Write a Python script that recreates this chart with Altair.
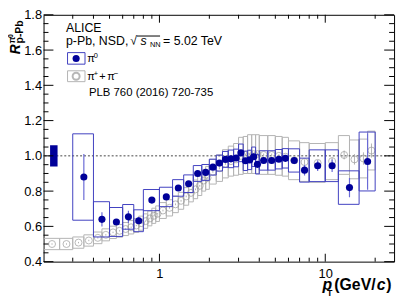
import altair as alt
import pandas as pd

# ---------------- data ----------------
# pi0 R_pPb
pi0_pt = [0.35, 0.45, 0.55, 0.65, 0.75, 0.9, 1.1, 1.3, 1.5, 1.7, 1.9, 2.1, 2.3, 2.5, 2.7, 2.9,
          3.1, 3.3, 3.5, 3.7, 3.9, 4.25, 4.75, 5.25, 5.75, 6.5, 7.5, 9.0, 11.0, 14.0, 18.0]
pi0_lo = [0.3, 0.4, 0.5, 0.6, 0.7, 0.8, 1.0, 1.2, 1.4, 1.6, 1.8, 2.0, 2.2, 2.4, 2.6, 2.8,
          3.0, 3.2, 3.4, 3.6, 3.8, 4.0, 4.5, 5.0, 5.5, 6.0, 7.0, 8.0, 10.0, 12.0, 16.0]
pi0_hi = [0.4, 0.5, 0.6, 0.7, 0.8, 1.0, 1.2, 1.4, 1.6, 1.8, 2.0, 2.2, 2.4, 2.6, 2.8, 3.0,
          3.2, 3.4, 3.6, 3.8, 4.0, 4.5, 5.0, 5.5, 6.0, 7.0, 8.0, 10.0, 12.0, 16.0, 20.0]
pi0_val = [0.88, 0.64, 0.625, 0.654, 0.632, 0.749, 0.767, 0.818, 0.842, 0.90, 0.906, 0.936, 0.959,
           0.98, 0.983, 0.988, 1.017, 0.972, 0.977, 0.995, 0.952, 0.974, 0.974, 0.981, 0.986,
           0.974, 0.919, 0.944, 0.944, 0.82, 0.968]
pi0_stat = [0.13, 0.04, 0.015, 0.035, 0.02, 0.012, 0.01, 0.01, 0.01, 0.01, 0.01, 0.01, 0.01,
            0.01, 0.01, 0.01, 0.01, 0.015, 0.015, 0.015, 0.015, 0.015, 0.015, 0.015, 0.015,
            0.02, 0.03, 0.03, 0.035, 0.055, 0.16]
pi0_sys = [0.245, 0.10, 0.082, 0.07, 0.062, 0.06, 0.055, 0.047, 0.05, 0.045, 0.045, 0.045, 0.045,
           0.045, 0.05, 0.05, 0.05, 0.055, 0.055, 0.055, 0.055, 0.055, 0.055, 0.055, 0.055,
           0.066, 0.068, 0.09, 0.09, 0.095, 0.167]

# pi+ + pi- R_pPb
ch_pt = [0.225, 0.275, 0.325, 0.375, 0.425, 0.475, 0.525, 0.575, 0.625, 0.675, 0.725, 0.775,
         0.825, 0.875, 0.925, 0.975, 1.05, 1.15, 1.25, 1.35, 1.45, 1.55, 1.65, 1.75, 1.85, 1.95,
         2.1, 2.3, 2.5, 2.7, 2.9, 3.1, 3.3, 3.5, 3.7, 3.9, 4.25, 4.75, 5.25, 5.75,
         6.5, 7.5, 9.0, 11.0, 13.0, 15.0, 17.0, 19.0]
ch_lo = [0.2, 0.25, 0.3, 0.35, 0.4, 0.45, 0.5, 0.55, 0.6, 0.65, 0.7, 0.75, 0.8, 0.85, 0.9, 0.95,
         1.0, 1.1, 1.2, 1.3, 1.4, 1.5, 1.6, 1.7, 1.8, 1.9, 2.0, 2.2, 2.4, 2.6, 2.8, 3.0, 3.2, 3.4,
         3.6, 3.8, 4.0, 4.5, 5.0, 5.5, 6.0, 7.0, 8.0, 10.0, 12.0, 14.0, 16.0, 18.0]
ch_hi = [0.25, 0.3, 0.35, 0.4, 0.45, 0.5, 0.55, 0.6, 0.65, 0.7, 0.75, 0.8, 0.85, 0.9, 0.95, 1.0,
         1.1, 1.2, 1.3, 1.4, 1.5, 1.6, 1.7, 1.8, 1.9, 2.0, 2.2, 2.4, 2.6, 2.8, 3.0, 3.2, 3.4, 3.6,
         3.8, 4.0, 4.5, 5.0, 5.5, 6.0, 7.0, 8.0, 10.0, 12.0, 14.0, 16.0, 18.0, 20.0]
ch_val = [0.50, 0.50, 0.508, 0.52, 0.535, 0.552, 0.566, 0.575, 0.585, 0.595, 0.605, 0.618,
          0.63, 0.645, 0.66, 0.672, 0.69, 0.705, 0.725, 0.745, 0.77, 0.79, 0.81, 0.83, 0.86,
          0.875, 0.91, 0.93, 0.955, 0.97, 0.98, 1.0, 1.005, 1.01, 1.01, 1.01, 1.005, 1.005,
          1.0, 0.995, 0.975, 0.965, 0.96, 0.97, 1.005, 0.98, 0.985, 1.03]
ch_stat = [0.004, 0.004, 0.004, 0.004, 0.004, 0.004, 0.004, 0.004, 0.004, 0.004, 0.004, 0.004,
           0.004, 0.004, 0.004, 0.004, 0.005, 0.005, 0.005, 0.005, 0.005, 0.005, 0.005, 0.005,
           0.005, 0.005, 0.006, 0.006, 0.006, 0.006, 0.006, 0.007, 0.007, 0.007, 0.007, 0.007,
           0.008, 0.008, 0.009, 0.01, 0.012, 0.015, 0.015, 0.02, 0.025, 0.03, 0.035, 0.04]
ch_sys = [0.032, 0.032, 0.032, 0.032, 0.033, 0.034, 0.035, 0.036, 0.037, 0.038, 0.039, 0.04,
          0.041, 0.042, 0.043, 0.044, 0.045, 0.046, 0.047, 0.048, 0.05, 0.051, 0.053, 0.055,
          0.06, 0.065, 0.07, 0.075, 0.08, 0.085, 0.09, 0.105, 0.105, 0.11, 0.11, 0.11, 0.11,
          0.11, 0.11, 0.11, 0.11, 0.11, 0.11, 0.105, 0.11, 0.11, 0.11, 0.11]

# normalisation uncertainty box
norm_x = [0.219, 0.243]
norm_y = [0.94, 1.06]

# axis ticks / labels
y_major = [0.4, 0.6, 0.8, 1.0, 1.2, 1.4, 1.6, 1.8]
y_minor = [0.45, 0.5, 0.55, 0.65, 0.7, 0.75, 0.85, 0.9, 0.95, 1.05, 1.1, 1.15, 1.25, 1.3, 1.35,
           1.45, 1.5, 1.55, 1.65, 1.7, 1.75]
x_major = [1, 10]
x_minor = [0.3, 0.4, 0.5, 0.6, 0.7, 0.8, 0.9, 2, 3, 4, 5, 6, 7, 8, 9, 20]
ref_line = [1.0]

# ---------------- build ----------------
W, H = 355, 250
FONT = "Liberation Sans"
BLUE = "#000099"
BLUE_BOX = "#4040c0"
BLUE_ERR = "#6a6ad6"
GRAY_BOX = "#b4b4b4"
GRAY_PT = "#9a9a9a"

xsc = alt.Scale(type="log", domain=[0.2, 26], nice=False)
ysc = alt.Scale(domain=[0.4, 1.8], nice=False, zero=False)

xaxis = alt.Axis(values=x_major, format="d", title=None, ticks=False, tickSize=0, domain=False,
                 grid=False, labelFont=FONT, labelFontSize=13, labelPadding=6, labelColor="black",
                 labelFlush=False)
yaxis = alt.Axis(values=y_major, format=".1f", title=None, ticks=False, tickSize=0, domain=False,
                 grid=False, labelFont=FONT, labelFontSize=13, labelPadding=2, labelColor="black",
                 labelFlush=False)


def X(field):
    return alt.X(field, type="quantitative", scale=xsc, axis=xaxis)


def Y(field):
    return alt.Y(field, type="quantitative", scale=ysc, axis=yaxis)


pi0 = pd.DataFrame({"pt": pi0_pt, "xlo": pi0_lo, "xhi": pi0_hi, "val": pi0_val})
pi0["slo"] = [v - e for v, e in zip(pi0_val, pi0_stat)]
pi0["shi"] = [v + e for v, e in zip(pi0_val, pi0_stat)]
pi0["ylo"] = [v - e for v, e in zip(pi0_val, pi0_sys)]
pi0["yhi"] = [v + e for v, e in zip(pi0_val, pi0_sys)]

ch = pd.DataFrame({"pt": ch_pt, "xlo": ch_lo, "xhi": ch_hi, "val": ch_val})
ch["slo"] = [v - e for v, e in zip(ch_val, ch_stat)]
ch["shi"] = [v + e for v, e in zip(ch_val, ch_stat)]
ch["ylo"] = [v - e for v, e in zip(ch_val, ch_sys)]
ch["yhi"] = [v + e for v, e in zip(ch_val, ch_sys)]

norm = pd.DataFrame({"x": [norm_x[0]], "x2": [norm_x[1]], "y": [norm_y[0]], "y2": [norm_y[1]]})

one = pd.DataFrame({"a": [0]})

layers = []

# gray sys boxes
layers.append(alt.Chart(ch).mark_rect(fillOpacity=0, stroke=GRAY_BOX, strokeWidth=1, clip=True).encode(
    x=X("xlo"), x2="xhi", y=Y("ylo"), y2="yhi"))
# dashed line at 1
layers.append(alt.Chart(pd.DataFrame({"v": ref_line})).mark_rule(
    color="#444444", strokeDash=[2, 2], strokeWidth=1).encode(y=Y("v")))
# gray stat bars
layers.append(alt.Chart(ch).mark_rule(color=GRAY_BOX, strokeWidth=1, clip=True).encode(
    x=X("pt"), y=Y("slo"), y2="shi"))
# gray open circles
layers.append(alt.Chart(ch).mark_point(shape="circle", filled=False, size=50, color=GRAY_PT,
                                       strokeWidth=1, clip=True).encode(x=X("pt"), y=Y("val")))
# normalisation box
layers.append(alt.Chart(norm).mark_rect(color=BLUE, clip=True).encode(
    x=X("x"), x2="x2", y=Y("y"), y2="y2"))
# blue sys boxes
layers.append(alt.Chart(pi0).mark_rect(fillOpacity=0, stroke=BLUE_BOX, strokeWidth=1, clip=True).encode(
    x=X("xlo"), x2="xhi", y=Y("ylo"), y2="yhi"))
# blue stat bars
layers.append(alt.Chart(pi0).mark_rule(color=BLUE_ERR, strokeWidth=1.2, clip=True).encode(
    x=X("pt"), y=Y("slo"), y2="shi"))
# blue points
layers.append(alt.Chart(pi0).mark_point(shape="circle", filled=True, size=52, color=BLUE,
                                        opacity=1, clip=True).encode(x=X("pt"), y=Y("val")))


# inward ticks on all four sides
def yticks(vals, length):
    df = pd.DataFrame({"v": vals})
    left = alt.Chart(df).mark_rule(color="black", strokeWidth=1).encode(
        y=Y("v"), x=alt.value(0), x2=alt.value(length))
    right = alt.Chart(df).mark_rule(color="black", strokeWidth=1).encode(
        y=Y("v"), x=alt.value(W), x2=alt.value(W - length))
    return [left, right]


def xticks(vals, length):
    df = pd.DataFrame({"v": vals})
    bottom = alt.Chart(df).mark_rule(color="black", strokeWidth=1).encode(
        x=X("v"), y=alt.value(H), y2=alt.value(H - length))
    top = alt.Chart(df).mark_rule(color="black", strokeWidth=1).encode(
        x=X("v"), y=alt.value(0), y2=alt.value(length))
    return [bottom, top]


layers += yticks(y_major, 10) + yticks(y_minor, 5) + xticks(x_major, 8) + xticks(x_minor, 4)


# ---------------- text annotations ----------------
def txt(s, x, y, size=12.5, weight="normal", style="normal", angle=0, color="black"):
    return alt.Chart(one).mark_text(text=s, fontSize=size, fontWeight=weight, fontStyle=style,
                                    angle=angle, align="left", baseline="alphabetic",
                                    font=FONT, color=color).encode(
        x=alt.value(x), y=alt.value(y))


def box(x1, x2, y1, y2, color):
    return alt.Chart(one).mark_rect(fillOpacity=0, stroke=color, strokeWidth=1).encode(
        x=alt.value(x1), x2=alt.value(x2), y=alt.value(y1), y2=alt.value(y2))


def hline(x1, x2, y):
    return alt.Chart(one).mark_rule(color="black", strokeWidth=1).encode(
        x=alt.value(x1), x2=alt.value(x2), y=alt.value(y))


layers += [
    txt("ALICE", 22.7, 17, 12.5),
    txt("p-Pb, NSD,", 22.7, 30.3, 12.5),
    txt("\u221a", 87.8, 31.0, 12.5),
    hline(94.6, 118, 21.5),
    txt("s", 98.3, 30.3, 12.5, style="italic"),
    txt("NN", 107.7, 32.8, 7.5),
    txt("= 5.02 TeV", 121, 30.3, 12.5),
    # legend
    box(24.3, 42, 38.3, 50, BLUE_BOX),
    alt.Chart(one).mark_point(shape="circle", filled=True, size=52, color=BLUE, opacity=1).encode(
        x=alt.value(33), y=alt.value(44.2)),
    txt("\u03c0", 44.3, 47.7, 11),
    txt("0", 50.8, 43.6, 7.5),
    box(24.3, 42, 56.7, 67.7, GRAY_BOX),
    alt.Chart(one).mark_point(shape="circle", filled=False, size=50, color=GRAY_PT).encode(
        x=alt.value(33), y=alt.value(62.2)),
    txt("\u03c0", 44.3, 66, 11),
    txt("+", 50.8, 61.5, 7.5),
    txt("+", 56.5, 66, 11),
    txt("\u03c0", 64.5, 66, 11),
    txt("\u2212", 71.0, 61.5, 8),
    txt("PLB 760 (2016) 720-735", 46, 82.7, 11.5),
    # x title
    txt("p", 282.5, 279.2, 16, weight="bold", style="italic"),
    txt("T", 287, 285.2, 9, weight="bold"),
    txt("(GeV/", 294.5, 279.2, 16, weight="bold"),
    txt("c", 337.5, 279.2, 16, weight="bold", style="italic"),
    txt(")", 347, 279.2, 16, weight="bold"),
    # y title (rotated, reads bottom-to-top)
    txt("R", -24, 40, 14, weight="bold", style="italic", angle=270),
    txt("\u03c0", -28.5, 29, 9, weight="bold", angle=270),
    txt("0", -30.5, 23.5, 7, weight="bold", angle=270),
    txt("p-Pb", -21, 29, 10.5, weight="bold", angle=270),
]

chart = alt.layer(*layers).properties(
    width=W, height=H,
    padding={"left": 36, "top": 5, "right": 5, "bottom": 40},
    autosize=alt.AutoSizeParams(type="none"),
).configure_view(stroke="black", strokeWidth=1).configure_axis(grid=False)

chart.save("out.html", embed_options={"renderer": "svg", "actions": False})
